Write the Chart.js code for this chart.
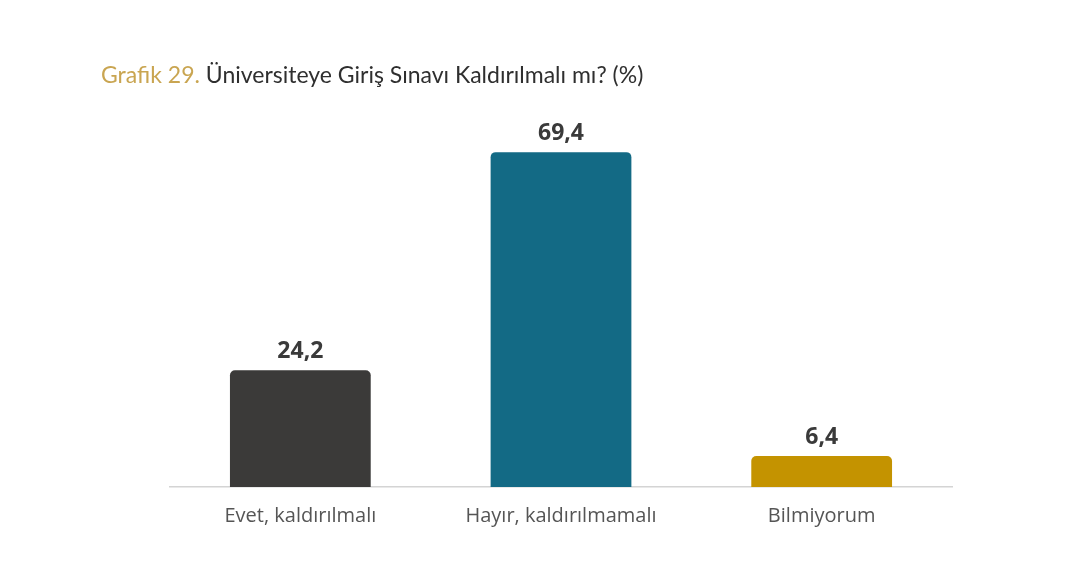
<!DOCTYPE html>
<html>
<head>
<meta charset="utf-8">
<script src="https://cdn.jsdelivr.net/npm/chart.js@4"></script>
<style>
  body { margin: 0; background: #fff; }
  #wrap { position: relative; width: 1068px; height: 567px; }
  #title { position: absolute; left: 101px; top: 60px; font-family: Lato, sans-serif; font-size: 23px; color: #2f2f2f; white-space: nowrap; }
  #title span { color: #c9a551; }
</style>
</head>
<body>
<div id="wrap">
  <div id="title"><span>Grafik 29.</span> Üniversiteye Giriş Sınavı Kaldırılmalı mı? (%)</div>
  <canvas id="myChart"></canvas>
</div>
<script>
const categories = ['Evet, kaldırılmalı', 'Hayır, kaldırılmamalı', 'Bilmiyorum'];
const values = [24.2, 69.4, 6.4];
const barColors = ['#3b3a39', '#136a85', '#c49300'];

// value labels above bars, Turkish decimal comma
const valueLabels = {
    id: 'valueLabels',
    afterDatasetsDraw(chart) {
        const ctx = chart.ctx;
        const meta = chart.getDatasetMeta(0);
        ctx.save();
        ctx.font = 'bold 23px "Open Sans", sans-serif';
        ctx.fillStyle = '#3a3a3a';
        ctx.textAlign = 'center';
        ctx.textBaseline = 'middle';
        meta.data.forEach((bar, i) => {
            ctx.fillText(values[i].toFixed(1).replace('.', ','), bar.x, bar.y - 19);
        });
        ctx.restore();
    }
};

let myChart = document.getElementById('myChart').getContext('2d');

let surveyChart = new Chart(myChart, {
    type: 'bar',
    data: {
        labels: categories,
        datasets: [{
            data: values,
            backgroundColor: barColors,
            borderRadius: 5,
            categoryPercentage: 1,
            barPercentage: 0.54
        }]
    },
    options: {
        responsive: true,
        maintainAspectRatio: false,
        animation: false,
        layout: { padding: { left: 170, right: 116, top: 101, bottom: 30 } },
        plugins: { legend: { display: false }, tooltip: { enabled: false } },
        scales: {
            x: {
                grid: { display: false },
                border: { display: true, color: '#d4d4d4', width: 1.5 },
                ticks: {
                    padding: 9,
                    color: '#555',
                    font: { family: '"Open Sans", sans-serif', size: 20 }
                }
            },
            y: {
                display: false,
                min: 0,
                max: 80
            }
        }
    },
    plugins: [valueLabels]
});
</script>
</body>
</html>
